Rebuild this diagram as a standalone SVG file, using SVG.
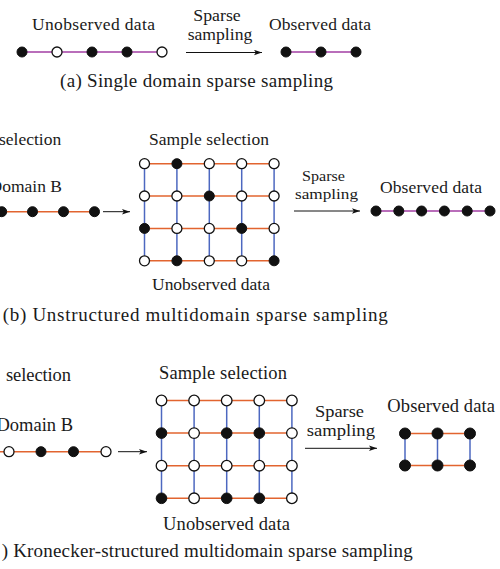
<svg xmlns="http://www.w3.org/2000/svg" width="500" height="569" viewBox="0 0 500 569" font-family="'Liberation Serif', 'Times New Roman', 'DejaVu Serif', serif">
<style>
text{font-family:"Liberation Serif","Times New Roman","DejaVu Serif",serif;fill:#1a1a1a;font-size:17.5px}
.cap{font-size:19px}
.big{font-size:18.5px}
.sm{font-size:16px}
.f{fill:#111;stroke:#111;stroke-width:1}
.o{fill:#fff;stroke:#111;stroke-width:1.3}
.pu{stroke:#a23ea3;stroke-width:1.5;fill:none}
.or{stroke:#e2642f;stroke-width:1.5;fill:none}
.bl{stroke:#4d68c0;stroke-width:1.5;fill:none}
.ar{stroke:#111;stroke-width:1;fill:none;marker-end:url(#ah)}
</style>
<defs>
<marker id="ah" viewBox="0 0 8 6" refX="8" refY="3" markerWidth="8" markerHeight="6" markerUnits="userSpaceOnUse" orient="auto">
<path d="M0,0.3 L8,3 L0,5.7 L1.8,3 Z" fill="#111"/>
</marker>
</defs>

<!-- ===== (a) ===== -->
<g id="labels-a">
<text x="32" y="29.5" textLength="123" lengthAdjust="spacing">Unobserved data</text>
<text class="sm" x="193.3" y="21" textLength="47.4" lengthAdjust="spacingAndGlyphs">Sparse</text>
<text class="sm" x="187.7" y="39.5" textLength="64.6" lengthAdjust="spacingAndGlyphs">sampling</text>
<text x="269" y="29.5" textLength="102" lengthAdjust="spacing">Observed data</text>
<text class="cap" x="60" y="87" textLength="273" lengthAdjust="spacing">(a) Single domain sparse sampling</text>
</g>
<g id="connectors-a">
<line class="pu" x1="22" y1="52" x2="162" y2="52"/>
<line class="pu" x1="286" y1="52" x2="356" y2="52"/>
<line class="ar" x1="186" y1="52.5" x2="262" y2="52.5"/>
</g>
<g id="a-u1"><circle class="f" cx="22" cy="52" r="5"/></g>
<g id="a-u2"><circle class="o" cx="57" cy="52" r="5"/></g>
<g id="a-u3"><circle class="f" cx="92" cy="52" r="5"/></g>
<g id="a-u4"><circle class="f" cx="127" cy="52" r="5"/></g>
<g id="a-u5"><circle class="o" cx="162" cy="52" r="5"/></g>
<g id="a-o1"><circle class="f" cx="286" cy="52" r="5"/></g>
<g id="a-o2"><circle class="f" cx="321" cy="52" r="5"/></g>
<g id="a-o3"><circle class="f" cx="356" cy="52" r="5"/></g>

<!-- ===== (b) ===== -->
<g id="labels-b">
<text x="-1" y="145">selection</text>
<text x="62" y="191.7" text-anchor="end">Domain B</text>
<text x="209" y="144.5" text-anchor="middle" textLength="120" lengthAdjust="spacing">Sample selection</text>
<text x="211" y="290" text-anchor="middle" textLength="118" lengthAdjust="spacing">Unobserved data</text>
<text style="font-size:15.5px" x="302" y="181" textLength="43" lengthAdjust="spacingAndGlyphs">Sparse</text>
<text style="font-size:15.5px" x="295" y="198.5" textLength="63" lengthAdjust="spacingAndGlyphs">sampling</text>
<text x="380" y="193" textLength="102" lengthAdjust="spacing">Observed data</text>
<text class="cap" x="2.7" y="320.7" textLength="385" lengthAdjust="spacing">(b) Unstructured multidomain sparse sampling</text>
</g>
<g id="connectors-b">
<line class="or" x1="0" y1="211.7" x2="94.5" y2="211.7"/>
<line class="ar" x1="103" y1="211.7" x2="130" y2="211.7"/>
<g id="b-grid-h">
<line class="or" x1="144.5" y1="163.7" x2="274.1" y2="163.7"/>
<line class="or" x1="144.5" y1="196" x2="274.1" y2="196"/>
<line class="or" x1="144.5" y1="228.4" x2="274.1" y2="228.4"/>
<line class="or" x1="144.5" y1="260.8" x2="274.1" y2="260.8"/>
</g>
<g id="b-grid-v">
<line class="bl" x1="144.5" y1="163.7" x2="144.5" y2="260.8"/>
<line class="bl" x1="176.9" y1="163.7" x2="176.9" y2="260.8"/>
<line class="bl" x1="209.3" y1="163.7" x2="209.3" y2="260.8"/>
<line class="bl" x1="241.7" y1="163.7" x2="241.7" y2="260.8"/>
<line class="bl" x1="274.1" y1="163.7" x2="274.1" y2="260.8"/>
</g>
<line class="ar" x1="294" y1="211" x2="360" y2="211"/>
<line class="pu" x1="376" y1="211" x2="490" y2="211"/>
</g>
<g id="b-d1"><circle class="f" cx="1.7" cy="211.7" r="5"/></g>
<g id="b-d2"><circle class="f" cx="32.5" cy="211.7" r="5"/></g>
<g id="b-d3"><circle class="f" cx="63.5" cy="211.7" r="5"/></g>
<g id="b-d4"><circle class="f" cx="94.5" cy="211.7" r="5"/></g>
<g id="b-r1c1"><circle class="o" cx="144.5" cy="163.7" r="5"/></g>
<g id="b-r1c2"><circle class="f" cx="176.9" cy="163.7" r="5"/></g>
<g id="b-r1c3"><circle class="o" cx="209.3" cy="163.7" r="5"/></g>
<g id="b-r1c4"><circle class="o" cx="241.7" cy="163.7" r="5"/></g>
<g id="b-r1c5"><circle class="o" cx="274.1" cy="163.7" r="5"/></g>
<g id="b-r2c1"><circle class="o" cx="144.5" cy="196" r="5"/></g>
<g id="b-r2c2"><circle class="o" cx="176.9" cy="196" r="5"/></g>
<g id="b-r2c3"><circle class="f" cx="209.3" cy="196" r="5"/></g>
<g id="b-r2c4"><circle class="o" cx="241.7" cy="196" r="5"/></g>
<g id="b-r2c5"><circle class="o" cx="274.1" cy="196" r="5"/></g>
<g id="b-r3c1"><circle class="f" cx="144.5" cy="228.4" r="5"/></g>
<g id="b-r3c2"><circle class="o" cx="176.9" cy="228.4" r="5"/></g>
<g id="b-r3c3"><circle class="o" cx="209.3" cy="228.4" r="5"/></g>
<g id="b-r3c4"><circle class="f" cx="241.7" cy="228.4" r="5"/></g>
<g id="b-r3c5"><circle class="o" cx="274.1" cy="228.4" r="5"/></g>
<g id="b-r4c1"><circle class="o" cx="144.5" cy="260.8" r="5"/></g>
<g id="b-r4c2"><circle class="f" cx="176.9" cy="260.8" r="5"/></g>
<g id="b-r4c3"><circle class="o" cx="209.3" cy="260.8" r="5"/></g>
<g id="b-r4c4"><circle class="o" cx="241.7" cy="260.8" r="5"/></g>
<g id="b-r4c5"><circle class="f" cx="274.1" cy="260.8" r="5"/></g>
<g id="b-o1"><circle class="f" cx="376" cy="211" r="5"/></g>
<g id="b-o2"><circle class="f" cx="398.8" cy="211" r="5"/></g>
<g id="b-o3"><circle class="f" cx="421.6" cy="211" r="5"/></g>
<g id="b-o4"><circle class="f" cx="444.4" cy="211" r="5"/></g>
<g id="b-o5"><circle class="f" cx="467.2" cy="211" r="5"/></g>
<g id="b-o6"><circle class="f" cx="490" cy="211" r="5"/></g>

<!-- ===== (c) ===== -->
<g id="labels-c">
<text class="big" x="6" y="380.7" textLength="65" lengthAdjust="spacing">selection</text>
<text class="big" x="73" y="431" text-anchor="end">Domain B</text>
<text class="big" x="223" y="379.3" text-anchor="middle" textLength="128" lengthAdjust="spacing">Sample selection</text>
<text class="big" x="226.5" y="530" text-anchor="middle" textLength="127" lengthAdjust="spacing">Unobserved data</text>
<text style="font-size:16.5px" x="315" y="416.5" textLength="49" lengthAdjust="spacingAndGlyphs">Sparse</text>
<text style="font-size:16.5px" x="306.7" y="435.5" textLength="68.3" lengthAdjust="spacingAndGlyphs">sampling</text>
<text class="big" x="387.3" y="411.7" textLength="107.7" lengthAdjust="spacing">Observed data</text>
<text class="cap" x="1.7" y="556.7" textLength="411" lengthAdjust="spacing">) Kronecker-structured multidomain sparse sampling</text>
</g>
<g id="connectors-c">
<line class="or" x1="0" y1="451.7" x2="106" y2="451.7"/>
<line class="ar" x1="118" y1="451.7" x2="147" y2="451.7"/>
<g id="c-grid-h">
<line class="or" x1="161.5" y1="400.5" x2="291.9" y2="400.5"/>
<line class="or" x1="161.5" y1="433.1" x2="291.9" y2="433.1"/>
<line class="or" x1="161.5" y1="465.7" x2="291.9" y2="465.7"/>
<line class="or" x1="161.5" y1="498.3" x2="291.9" y2="498.3"/>
</g>
<g id="c-grid-v">
<line class="bl" x1="161.5" y1="400.5" x2="161.5" y2="498.3"/>
<line class="bl" x1="194.1" y1="400.5" x2="194.1" y2="498.3"/>
<line class="bl" x1="226.7" y1="400.5" x2="226.7" y2="498.3"/>
<line class="bl" x1="259.3" y1="400.5" x2="259.3" y2="498.3"/>
<line class="bl" x1="291.9" y1="400.5" x2="291.9" y2="498.3"/>
</g>
<line class="ar" x1="305" y1="448.3" x2="377" y2="448.3"/>
<line class="or" x1="405" y1="433.5" x2="470" y2="433.5"/>
<line class="or" x1="405" y1="465.5" x2="470" y2="465.5"/>
<line class="bl" x1="405" y1="433.5" x2="405" y2="465.5"/>
<line class="bl" x1="437.5" y1="433.5" x2="437.5" y2="465.5"/>
<line class="bl" x1="470" y1="433.5" x2="470" y2="465.5"/>
</g>
<g id="c-d1"><circle class="o" cx="9" cy="451.7" r="5"/></g>
<g id="c-d2"><circle class="f" cx="41" cy="451.7" r="5"/></g>
<g id="c-d3"><circle class="f" cx="73.5" cy="451.7" r="5"/></g>
<g id="c-d4"><circle class="o" cx="106" cy="451.7" r="5"/></g>
<g id="c-r1c1"><circle class="o" cx="161.5" cy="400.5" r="5.3"/></g>
<g id="c-r1c2"><circle class="o" cx="194.1" cy="400.5" r="5.3"/></g>
<g id="c-r1c3"><circle class="o" cx="226.7" cy="400.5" r="5.3"/></g>
<g id="c-r1c4"><circle class="o" cx="259.3" cy="400.5" r="5.3"/></g>
<g id="c-r1c5"><circle class="o" cx="291.9" cy="400.5" r="5.3"/></g>
<g id="c-r2c1"><circle class="f" cx="161.5" cy="433.1" r="5.3"/></g>
<g id="c-r2c2"><circle class="o" cx="194.1" cy="433.1" r="5.3"/></g>
<g id="c-r2c3"><circle class="f" cx="226.7" cy="433.1" r="5.3"/></g>
<g id="c-r2c4"><circle class="f" cx="259.3" cy="433.1" r="5.3"/></g>
<g id="c-r2c5"><circle class="o" cx="291.9" cy="433.1" r="5.3"/></g>
<g id="c-r3c1"><circle class="o" cx="161.5" cy="465.7" r="5.3"/></g>
<g id="c-r3c2"><circle class="o" cx="194.1" cy="465.7" r="5.3"/></g>
<g id="c-r3c3"><circle class="o" cx="226.7" cy="465.7" r="5.3"/></g>
<g id="c-r3c4"><circle class="o" cx="259.3" cy="465.7" r="5.3"/></g>
<g id="c-r3c5"><circle class="o" cx="291.9" cy="465.7" r="5.3"/></g>
<g id="c-r4c1"><circle class="f" cx="161.5" cy="498.3" r="5.3"/></g>
<g id="c-r4c2"><circle class="o" cx="194.1" cy="498.3" r="5.3"/></g>
<g id="c-r4c3"><circle class="f" cx="226.7" cy="498.3" r="5.3"/></g>
<g id="c-r4c4"><circle class="f" cx="259.3" cy="498.3" r="5.3"/></g>
<g id="c-r4c5"><circle class="o" cx="291.9" cy="498.3" r="5.3"/></g>
<g id="c-o11"><circle class="f" cx="405" cy="433.5" r="5.5"/></g>
<g id="c-o12"><circle class="f" cx="437.5" cy="433.5" r="5.5"/></g>
<g id="c-o13"><circle class="f" cx="470" cy="433.5" r="5.5"/></g>
<g id="c-o21"><circle class="f" cx="405" cy="465.5" r="5.5"/></g>
<g id="c-o22"><circle class="f" cx="437.5" cy="465.5" r="5.5"/></g>
<g id="c-o23"><circle class="f" cx="470" cy="465.5" r="5.5"/></g>
</svg>
